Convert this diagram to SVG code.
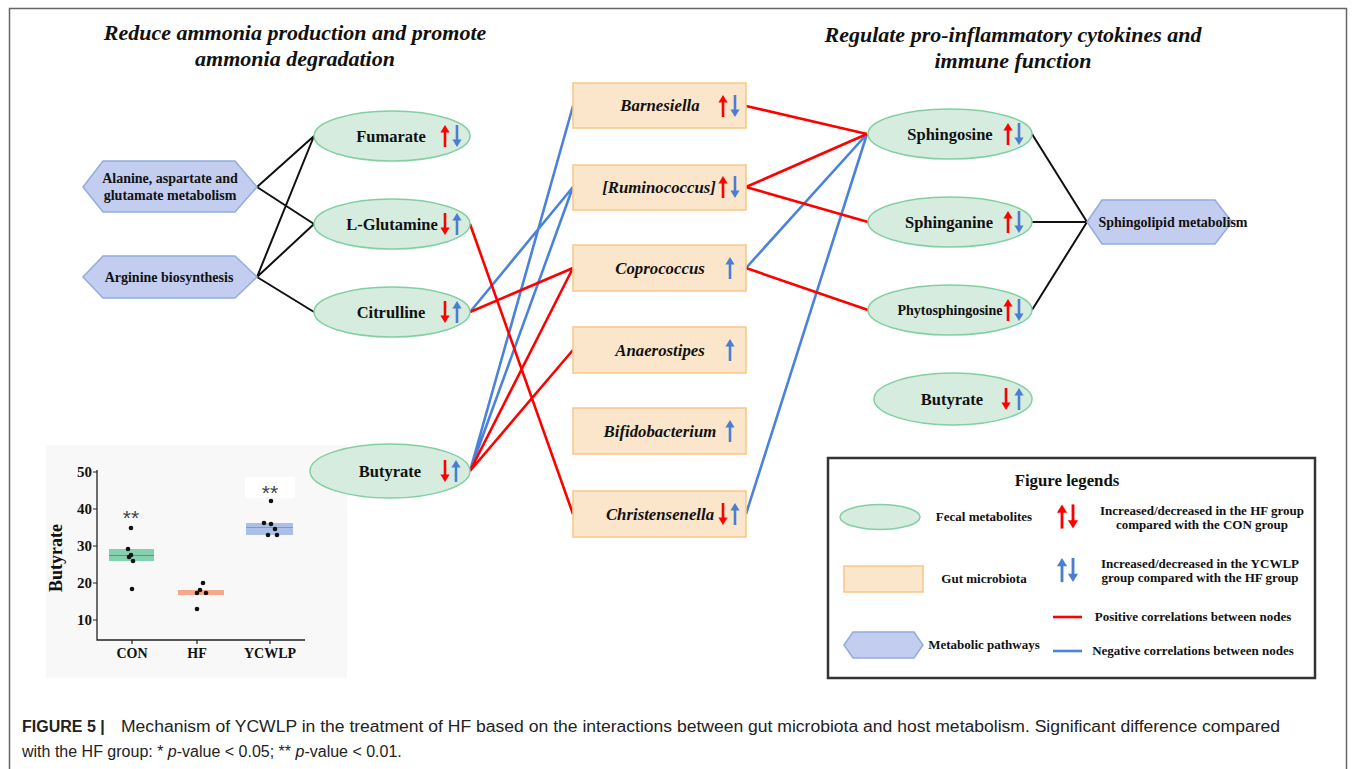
<svg xmlns="http://www.w3.org/2000/svg" width="1355" height="769" viewBox="0 0 1355 769">
<style>
.ell{fill:#d6ecdf;stroke:#82cfa2;stroke-width:1.5}
.box{fill:#fbe6cb;stroke:#f7c785;stroke-width:1.5}
.hex{fill:#c3cdef;stroke:#93acdf;stroke-width:1.5}
.t{font-family:"Liberation Serif","Times New Roman",serif;font-weight:bold;fill:#111;text-anchor:middle}
.ti{font-family:"Liberation Serif","Times New Roman",serif;font-weight:bold;font-style:italic;fill:#111;text-anchor:middle}
.k{stroke:#111;stroke-width:2;fill:none}
.r{stroke:#ff0000;stroke-width:2.6;fill:none}
.b{stroke:#4a82dc;stroke-width:2.6;fill:none}
.red{color:#ff0000}
.blu{color:#4a7fd0}
.cap{font-family:"Liberation Sans",Arial,sans-serif;font-size:16px;fill:#222}
</style>
<defs>
<g id="up"><path d="M0,11 V-5" stroke="currentColor" stroke-width="2.6"/><path d="M-4.6,-3.5 L0,-11 L4.6,-3.5 Z" fill="currentColor"/></g>
<g id="dn"><path d="M0,-11 V5" stroke="currentColor" stroke-width="2.6"/><path d="M-4.6,3.5 L0,11 L4.6,3.5 Z" fill="currentColor"/></g>
</defs>
<rect x="0" y="0" width="1355" height="769" fill="#fff"/>
<path d="M9.5,769 V8.5 H1346.5 V769" fill="none" stroke="#666" stroke-width="1.5"/>

<g id="titles">
<text class="ti" x="295" y="40" font-size="22">Reduce ammonia production and promote</text>
<text class="ti" x="295" y="66" font-size="22">ammonia degradation</text>
<text class="ti" x="1013" y="42" font-size="22">Regulate pro-inflammatory cytokines and</text>
<text class="ti" x="1013" y="68" font-size="22">immune function</text>
</g>

<g id="inset-plot">
<rect x="46" y="445" width="301" height="233" fill="#f8f8f8"/>
<rect x="245" y="477" width="50" height="21" fill="#fff"/>
<path d="M97,470 V640 H305" stroke="#222" stroke-width="1.3" fill="none"/>
<path d="M93,472 H97 M93,509 H97 M93,546 H97 M93,583 H97 M93,620 H97 M132,640 V644 M197,640 V644 M270,640 V644" stroke="#222" stroke-width="1.2"/>
<g class="t" font-size="15">
<text x="92" y="477" text-anchor="end">50</text>
<text x="92" y="514" text-anchor="end">40</text>
<text x="92" y="551" text-anchor="end">30</text>
<text x="92" y="588" text-anchor="end">20</text>
<text x="92" y="625" text-anchor="end">10</text>
</g>
<text class="t" x="132" y="658" font-size="14">CON</text>
<text class="t" x="197" y="658" font-size="14">HF</text>
<text class="t" x="270" y="658" font-size="14">YCWLP</text>
<text class="t" transform="translate(62,558) rotate(-90)" font-size="18">Butyrate</text>
<rect x="109" y="549" width="45" height="12" fill="#5cc497" fill-opacity="0.75"/>
<path d="M109,555.5 H154" stroke="#3aa877" stroke-width="1"/>
<rect x="178" y="590" width="46" height="5" fill="#f59a78" fill-opacity="0.85"/>
<rect x="246" y="523" width="47" height="12" fill="#9db5e4" fill-opacity="0.85"/>
<path d="M246,527.5 H293" stroke="#7d99d4" stroke-width="1"/>
<g fill="#111">
<circle cx="131" cy="528" r="2.3"/><circle cx="128" cy="549" r="2.3"/><circle cx="131" cy="555" r="2.3"/><circle cx="129" cy="557" r="2.3"/><circle cx="133" cy="561" r="2.3"/><circle cx="132" cy="589" r="2.3"/>
<circle cx="203" cy="583" r="2.3"/><circle cx="200" cy="590" r="2.3"/><circle cx="197" cy="593" r="2.3"/><circle cx="206" cy="593" r="2.3"/><circle cx="197" cy="609" r="2.3"/>
<circle cx="271" cy="501" r="2.3"/><circle cx="264" cy="523" r="2.3"/><circle cx="271" cy="524" r="2.3"/><circle cx="275" cy="529" r="2.3"/><circle cx="268" cy="535" r="2.3"/><circle cx="277" cy="535" r="2.3"/>
</g>
<text x="131" y="525" font-family="Liberation Sans,Arial,sans-serif" font-size="21" fill="#444" text-anchor="middle">**</text>
<text x="270" y="500" font-family="Liberation Sans,Arial,sans-serif" font-size="21" fill="#444" text-anchor="middle">**</text>
</g>

<g id="connectors">
<path class="k" d="M257,187 L314,136 M257,187 L314,224 M257,277 L314,136 M257,277 L314,224 M257,277 L314,312"/>
<path class="k" d="M1032,134 L1087,222 M1032,222 L1087,222 M1032,310 L1087,222"/>
<path class="b" d="M573,106 L470,471 M573,187 L470,312 M573,187 L470,471 M746,268 L867,134 M746,514 L867,134"/>
<path class="r" d="M746,106 L867,134 M746,187 L867,134 M746,187 L868,222 M573,268 L470,312 M573,268 L470,471 M746,268 L868,310 M573,350 L470,471 M573,514 L470,224"/>
</g>

<g id="node-alanine">
<polygon class="hex" points="83,187 103,161 235,161 257,187 235,212 103,212"/>
<text class="t" x="170" y="183" font-size="14">Alanine, aspartate and</text>
<text class="t" x="170" y="200" font-size="14">glutamate metabolism</text>
</g>
<g id="node-arginine">
<polygon class="hex" points="83,277 103,256 235,256 257,277 235,298 103,298"/>
<text class="t" x="169" y="282" font-size="14">Arginine biosynthesis</text>
</g>

<g id="node-fumarate">
<ellipse class="ell" cx="392" cy="136" rx="78" ry="25"/>
<text class="t" x="391" y="142" font-size="16.5">Fumarate</text>
<use href="#up" x="445" y="136" class="red"/><use href="#dn" x="457" y="136" class="blu"/>
</g>
<g id="node-glutamine">
<ellipse class="ell" cx="392" cy="224" rx="78" ry="25"/>
<text class="t" x="392" y="230" font-size="16.5">L-Glutamine</text>
<use href="#dn" x="445" y="224" class="red"/><use href="#up" x="457" y="224" class="blu"/>
</g>
<g id="node-citrulline">
<ellipse class="ell" cx="392" cy="312" rx="78" ry="25"/>
<text class="t" x="391" y="318" font-size="16.5">Citrulline</text>
<use href="#dn" x="445" y="312" class="red"/><use href="#up" x="457" y="312" class="blu"/>
</g>
<g id="node-butyrate-left">
<ellipse class="ell" cx="390" cy="471" rx="80" ry="27"/>
<text class="t" x="390" y="477" font-size="16.5">Butyrate</text>
<use href="#dn" x="445" y="471" class="red"/><use href="#up" x="456" y="471" class="blu"/>
</g>

<g id="node-barnesiella">
<rect class="box" x="573" y="83" width="173" height="45"/>
<text class="ti" x="660" y="111" font-size="16.8">Barnesiella</text>
<use href="#up" x="723" y="106" class="red"/><use href="#dn" x="735" y="106" class="blu"/>
</g>
<g id="node-ruminococcus">
<rect class="box" x="573" y="165" width="173" height="45"/>
<text class="ti" x="659" y="193" font-size="16.8">[Ruminococcus]</text>
<use href="#up" x="723" y="187" class="red"/><use href="#dn" x="735" y="187" class="blu"/>
</g>
<g id="node-coprococcus">
<rect class="box" x="573" y="245" width="173" height="46"/>
<text class="ti" x="660" y="274" font-size="16.8">Coprococcus</text>
<use href="#up" x="730" y="268" class="blu"/>
</g>
<g id="node-anaerostipes">
<rect class="box" x="573" y="327" width="173" height="46"/>
<text class="ti" x="660" y="356" font-size="16.8">Anaerostipes</text>
<use href="#up" x="730" y="350" class="blu"/>
</g>
<g id="node-bifidobacterium">
<rect class="box" x="573" y="408" width="173" height="46"/>
<text class="ti" x="660" y="437" font-size="16.8">Bifidobacterium</text>
<use href="#up" x="730" y="431" class="blu"/>
</g>
<g id="node-christensenella">
<rect class="box" x="573" y="491" width="173" height="46"/>
<text class="ti" x="660" y="520" font-size="16.8">Christensenella</text>
<use href="#dn" x="723" y="514" class="red"/><use href="#up" x="735" y="514" class="blu"/>
</g>

<g id="node-sphingosine">
<ellipse class="ell" cx="950" cy="134" rx="82" ry="25"/>
<text class="t" x="950" y="140" font-size="16.5">Sphingosine</text>
<use href="#up" x="1008" y="134" class="red"/><use href="#dn" x="1019" y="134" class="blu"/>
</g>
<g id="node-sphinganine">
<ellipse class="ell" cx="950" cy="222" rx="82" ry="25"/>
<text class="t" x="949" y="228" font-size="16.5">Sphinganine</text>
<use href="#up" x="1008" y="222" class="red"/><use href="#dn" x="1019" y="222" class="blu"/>
</g>
<g id="node-phytosphingosine">
<ellipse class="ell" cx="950" cy="310" rx="82" ry="25"/>
<text class="t" x="950" y="315" font-size="14">Phytosphingosine</text>
<use href="#up" x="1008" y="310" class="red"/><use href="#dn" x="1019" y="310" class="blu"/>
</g>
<g id="node-butyrate-right">
<ellipse class="ell" cx="953" cy="399" rx="79" ry="26"/>
<text class="t" x="952" y="405" font-size="16.5">Butyrate</text>
<use href="#dn" x="1006" y="399" class="red"/><use href="#up" x="1019" y="399" class="blu"/>
</g>
<g id="node-sphingolipid">
<polygon class="hex" points="1087,222 1102,200 1215,200 1232,222 1215,244 1102,244"/>
<text class="t" x="1173" y="227" font-size="14">Sphingolipid metabolism</text>
</g>

<g id="legend">
<rect x="828" y="458" width="487" height="220" fill="#fff" stroke="#333" stroke-width="2.5"/>
<text class="t" x="1067" y="486" font-size="16.8">Figure legends</text>
<ellipse class="ell" cx="880" cy="517" rx="40" ry="12.5"/>
<text class="t" x="984" y="521" font-size="13">Fecal metabolites</text>
<use href="#up" transform="translate(1062,516.5) scale(1.1)" class="red"/><use href="#dn" transform="translate(1073,516.5) scale(1.1)" class="red"/>
<text class="t" x="1202" y="515" font-size="13">Increased/decreased in the HF group</text>
<text class="t" x="1202" y="529" font-size="13">compared with the CON group</text>
<rect class="box" x="844" y="566" width="79" height="26"/>
<text class="t" x="984" y="583" font-size="13">Gut microbiota</text>
<use href="#up" transform="translate(1062,570) scale(1.1)" class="blu"/><use href="#dn" transform="translate(1073,570) scale(1.1)" class="blu"/>
<text class="t" x="1200" y="568" font-size="13">Increased/decreased in the YCWLP</text>
<text class="t" x="1200" y="582" font-size="13">group compared with the HF group</text>
<path class="r" d="M1053,617 H1082"/>
<text class="t" x="1193" y="621" font-size="13">Positive correlations between nodes</text>
<polygon class="hex" points="844,645 853,632 914,632 923,645 914,658 853,658"/>
<text class="t" x="984" y="649" font-size="13">Metabolic pathways</text>
<path class="b" d="M1053,651 H1082"/>
<text class="t" x="1193" y="655" font-size="13">Negative correlations between nodes</text>
</g>

<g id="caption">
<text class="cap" x="22" y="732" font-weight="bold">FIGURE 5 |</text>
<text class="cap" x="121" y="732" textLength="1159" lengthAdjust="spacingAndGlyphs">Mechanism of YCWLP in the treatment of HF based on the interactions between gut microbiota and host metabolism. Significant difference compared</text>
<text class="cap" x="22" y="757">with the HF group: * <tspan font-style="italic">p</tspan>-value &lt; 0.05; ** <tspan font-style="italic">p</tspan>-value &lt; 0.01.</text>
</g>
</svg>
